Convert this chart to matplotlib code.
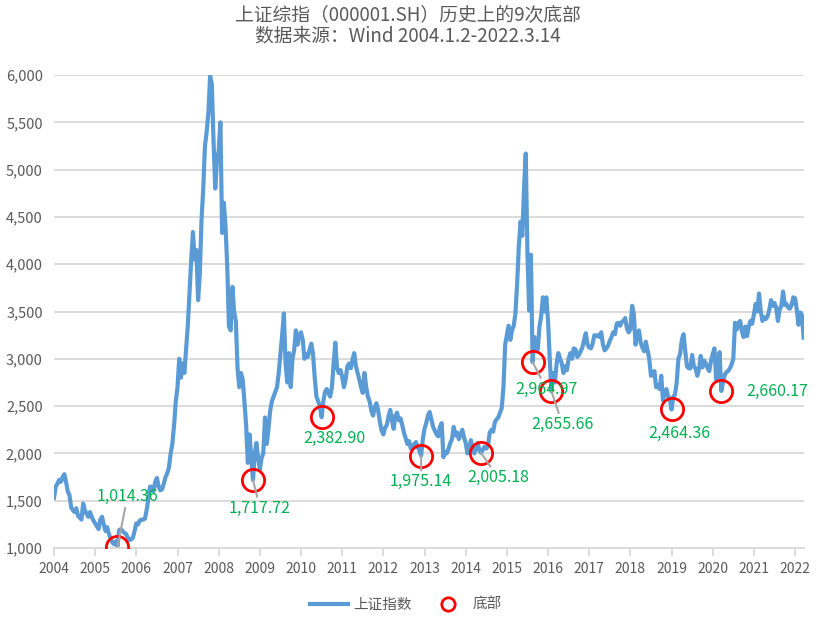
import numpy as np
import matplotlib
matplotlib.use('Agg')
import matplotlib.pyplot as plt

plt.rcParams['font.family'] = ['Noto Sans CJK SC', 'DejaVu Sans']

# Index readings, twice a month (1st and 15th)
y2004 = [1530, 1650, 1680, 1720, 1700, 1750, 1780, 1700, 1600, 1560, 1430, 1400,
         1380, 1420, 1340, 1320, 1300, 1470, 1400, 1360, 1330, 1380, 1330, 1290]
y2005 = [1260, 1230, 1200, 1300, 1330, 1250, 1180, 1220, 1150, 1100, 1060, 1040,
         1070, 1014.36, 1190, 1200, 1180, 1160, 1150, 1110, 1085, 1090, 1110, 1180]
y2006 = [1260, 1250, 1290, 1300, 1300, 1310, 1400, 1520, 1650, 1640, 1600, 1700,
         1740, 1650, 1610, 1620, 1680, 1750, 1790, 1850, 2000, 2100, 2300, 2550]
y2007 = [2700, 3000, 2800, 2950, 2850, 3100, 3350, 3700, 4050, 4340, 4050, 4150,
         3620, 3900, 4470, 4800, 5250, 5400, 5600, 5990, 5900, 5300, 4800, 5100]
y2008 = [5200, 5500, 4330, 4650, 4400, 3970, 3340, 3300, 3760, 3500, 3400, 2900,
         2700, 2850, 2780, 2550, 2300, 1900, 2200, 1950, 1717.72, 2000, 2110, 1950]
y2009 = [1830, 1950, 2000, 2380, 2100, 2250, 2450, 2550, 2600, 2650, 2700, 2850,
         3050, 3250, 3480, 2950, 2750, 3060, 2700, 3000, 3090, 3300, 3150, 3250]
y2010 = [3280, 3200, 3000, 3050, 3020, 3100, 3160, 3050, 2800, 2600, 2550, 2500,
         2382.90, 2550, 2650, 2680, 2640, 2600, 2700, 2950, 3170, 2900, 2850, 2880]
y2011 = [2810, 2700, 2780, 2920, 2950, 2900, 2990, 3060, 2920, 2850, 2780, 2700,
         2640, 2850, 2700, 2600, 2550, 2450, 2400, 2490, 2530, 2450, 2330, 2240]
y2012 = [2200, 2270, 2300, 2390, 2460, 2350, 2260, 2400, 2430, 2350, 2370, 2300,
         2220, 2160, 2100, 2130, 2050, 2090, 2090, 2120, 2070, 2030, 1975.14, 2150]
y2013 = [2260, 2320, 2400, 2437, 2360, 2280, 2240, 2200, 2180, 2280, 2320, 1960,
         2010, 2000, 2050, 2110, 2150, 2280, 2190, 2220, 2150, 2200, 2250, 2170]
y2014 = [2110, 2000, 2040, 2140, 2060, 2000, 2060, 2110, 2030, 2005.18, 2040, 2070,
         2050, 2080, 2220, 2250, 2230, 2330, 2360, 2380, 2430, 2480, 2700, 3150]
y2015 = [3250, 3350, 3200, 3300, 3350, 3480, 3800, 4200, 4450, 4300, 4800, 5170,
         4100, 3510, 4100, 2964.97, 3230, 3150, 3100, 3340, 3450, 3650, 3500, 3650]
y2016 = [3400, 3000, 2655.66, 2850, 2750, 2950, 3060, 3000, 2950, 2850, 2920, 2880,
         3000, 3060, 3000, 3110, 3100, 3020, 3040, 3080, 3120, 3200, 3270, 3150]
y2017 = [3120, 3110, 3160, 3250, 3240, 3250, 3230, 3280, 3150, 3090, 3110, 3140,
         3190, 3230, 3280, 3260, 3370, 3380, 3350, 3390, 3400, 3430, 3320, 3280]
y2018 = [3310, 3560, 3480, 3150, 3260, 3300, 3170, 3120, 3080, 3180, 3090, 3000,
         2820, 2830, 2870, 2700, 2720, 2680, 2820, 2560, 2640, 2680, 2600, 2580]
y2019 = [2464.36, 2600, 2620, 2750, 3000, 3050, 3200, 3260, 3080, 2920, 2900, 2900,
         3040, 2920, 2900, 2820, 2890, 3030, 2910, 2980, 2950, 2900, 2870, 2980]
y2020 = [3050, 3110, 2780, 2920, 3070, 2660.17, 2750, 2830, 2860, 2870, 2900, 2940,
         3000, 3380, 3310, 3380, 3400, 3290, 3230, 3340, 3240, 3340, 3400, 3370]
y2021 = [3470, 3580, 3500, 3690, 3500, 3400, 3440, 3420, 3450, 3520, 3620, 3560,
         3590, 3540, 3400, 3520, 3560, 3710, 3570, 3580, 3540, 3530, 3570, 3650]
y2022 = [3640, 3520, 3360, 3490, 3460, 3223]

closes = (y2004 + y2005 + y2006 + y2007 + y2008 + y2009 + y2010 + y2011 + y2012
          + y2013 + y2014 + y2015 + y2016 + y2017 + y2018 + y2019 + y2020 + y2021 + y2022)
dates = 2004 + np.arange(len(closes)) / 24

# The nine bottoms and where their labels sit (pixel offsets from the circle)
bottoms = [1014.36, 1717.72, 2382.90, 1975.14, 2005.18, 2964.97, 2655.66, 2464.36, 2660.17]
label_offsets = [(10, 50), (7, -28), (13, -21), (0, -26), (17, -25),
                 (14, -27), (11, -33), (8, -24), (56, -1)]
has_leader = [True, True, False, True, True, True, True, False, False]

years = list(range(2004, 2023))
yticks = list(range(1000, 6001, 500))

bottom_idx = [closes.index(v) for v in bottoms]
bx = dates[bottom_idx]
by = np.array(closes)[bottom_idx]

fig = plt.figure(figsize=(8.36, 6.22), dpi=100)
ax = fig.add_axes([54 / 836, 1 - 548 / 622, 750 / 836, 473 / 622])

ax.plot(dates, closes, color='#5B9BD5', lw=3.0, solid_joinstyle='round', label='上证指数', zorder=2)
ax.plot(bx, by, 'o', ms=16, mfc='none', mec='#FF0000', mew=2.0, label='底部', zorder=3)

for x, y, v, (dx, dy), lead in zip(bx, by, bottoms, label_offsets, has_leader):
    arrow = dict(arrowstyle='-', color='#A6A6A6', lw=1.5, shrinkA=0, shrinkB=0) if lead else None
    ax.annotate(f'{v:,.2f}', xy=(x, y), xytext=(dx, dy), textcoords='offset pixels',
                ha='center', va='center', fontsize=11.5, color='#00B050',
                arrowprops=arrow, zorder=4)

ax.set_xlim(2004, 2004 + 750 / 41.17)
ax.set_ylim(1000, 6000)
ax.set_xticks(years)
ax.set_xticklabels([str(y) for y in years])
ax.set_yticks(yticks)
ax.set_yticklabels([f'{t:,}' for t in yticks])

ax.set_axisbelow(True)
ax.yaxis.grid(True, color='#D9D9D9', lw=1.3)
for s in ['top', 'left', 'right']:
    ax.spines[s].set_visible(False)
ax.spines['bottom'].set_color('#D9D9D9')
ax.spines['bottom'].set_linewidth(1.3)
ax.tick_params(axis='x', length=6, width=1.3, color='#D9D9D9', labelcolor='#595959',
               labelsize=10, pad=4)
ax.tick_params(axis='y', length=0, labelcolor='#595959', labelsize=10.5, pad=8)

fig.text(408 / 836, 1 - 15 / 622, '上证综指（000001.SH）历史上的9次底部', ha='center', va='center',
         fontsize=13.5, color='#595959')
fig.text(408 / 836, 1 - 36 / 622, '数据来源：Wind 2004.1.2-2022.3.14', ha='center', va='center',
         fontsize=13.5, color='#595959')

fig.legend(loc='center', bbox_to_anchor=(406 / 836, 1 - 605 / 622), ncol=2, frameon=False,
           fontsize=10.5, markerscale=0.6, handlelength=2.6, handletextpad=0.35,
           columnspacing=1.2, labelcolor='#595959')

fig.savefig('out.png', dpi=100)
